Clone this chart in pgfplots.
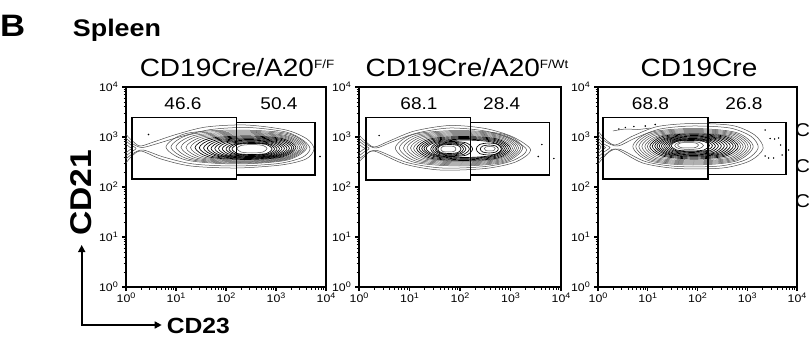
\documentclass[border=0pt]{standalone}
\usepackage{fontspec}
\setmainfont{Liberation Sans}[FakeStretch=1.12]
\usepackage{pgfplots}
\pgfplotsset{compat=1.18}
\usetikzlibrary{arrows.meta}
\newcommand{\tl}[1]{\fontsize{11}{11}\selectfont 10\raisebox{4.2pt}{\fontsize{8}{8}\selectfont #1}}
\pgfplotsset{
  panel/.style={
    scale only axis, height=200pt,
    anchor=south west,
    xmin=0,xmax=4,ymin=0,ymax=4,
    xtick={0,1,2,3,4}, ytick={0,1,2,3,4},
    xticklabels={\tl0,\tl1,\tl2,\tl3,\tl4},
    yticklabels={\tl0,\tl1,\tl2,\tl3,\tl4},
    minor xtick={0.301,0.477,0.602,0.699,0.778,0.845,0.903,0.954,1.301,1.477,1.602,1.699,1.778,1.845,1.903,1.954,2.301,2.477,2.602,2.699,2.778,2.845,2.903,2.954,3.301,3.477,3.602,3.699,3.778,3.845,3.903,3.954},
    minor ytick={0.301,0.477,0.602,0.699,0.778,0.845,0.903,0.954,1.301,1.477,1.602,1.699,1.778,1.845,1.903,1.954,2.301,2.477,2.602,2.699,2.778,2.845,2.903,2.954,3.301,3.477,3.602,3.699,3.778,3.845,3.903,3.954},
    xtick pos=left, ytick pos=left,
    tick align=outside,
    major tick length=4pt, minor tick length=2.5pt,
    axis line style={line width=1.5pt},
    every major tick/.append style={line width=1.2pt, black},
    every minor tick/.append style={line width=0.8pt, black},
    xticklabel style={inner sep=2pt},
    yticklabel style={inner sep=2pt, xshift=-2pt},
  },
  ring/.style={black!70, line width=0.5pt, smooth cycle, no markers},
  iring/.style={black, line width=0.65pt, smooth cycle, no markers},
  open/.style={black!70, line width=0.5pt, smooth, no markers},
  gate/.style={black, line width=1.6pt, sharp plot, line cap=rect, line join=miter, no markers},
  dots/.style={only marks, mark=*, mark size=0.5pt, black},
}
\begin{document}
\begin{tikzpicture}[x=1pt,y=1pt]
\useasboundingbox (0,0) rectangle (811,338);

% ---------------- Panel 1 ----------------
\begin{axis}[panel, at={(126pt,51pt)}, width=200pt]
\addplot[open] coordinates {(0.00,3.05) (0.12,2.93) (0.28,2.82) (0.55,2.90) (1.00,3.05) (1.60,3.20) (2.40,3.24) (3.20,3.14) (3.62,2.96) (3.76,2.76) (3.60,2.56) (3.10,2.44) (2.20,2.38) (1.30,2.42) (0.70,2.56) (0.30,2.72) (0.12,2.62) (0.00,2.48)};
\addplot[open] coordinates {(0.00,2.98) (0.14,2.86) (0.32,2.79) (0.60,2.86) (1.10,3.01) (1.70,3.15) (2.45,3.19) (3.20,3.10) (3.55,2.93) (3.68,2.76) (3.52,2.59) (3.05,2.47) (2.20,2.42) (1.35,2.46) (0.75,2.60) (0.34,2.74) (0.14,2.67) (0.00,2.56)};
\addplot[open] coordinates {(0.00,2.92) (0.10,2.84) (0.20,2.77) (0.10,2.70) (0.00,2.62)};
\addplot[open] coordinates {(0.00,2.86) (0.07,2.80) (0.12,2.77) (0.07,2.74) (0.00,2.68)};
\addplot[ring] coordinates {(3.62,2.80) (3.23,3.07) (2.21,3.14) (1.20,3.07) (0.80,2.80) (1.20,2.54) (2.21,2.46) (3.23,2.54)};
\addplot[ring] coordinates {(3.585,2.80) (3.21,3.05) (2.245,3.12) (1.28,3.05) (0.90,2.80) (1.28,2.55) (2.245,2.475) (3.21,2.55)};
\addplot[ring] coordinates {(3.55,2.80) (3.19,3.03) (2.28,3.10) (1.36,3.03) (1.00,2.80) (1.36,2.56) (2.28,2.49) (3.19,2.56)};
\addplot[ring] coordinates {(3.515,2.795) (3.175,3.015) (2.31,3.08) (1.44,3.015) (1.10,2.795) (1.44,2.57) (2.31,2.505) (3.175,2.57)};
\addplot[ring] coordinates {(3.48,2.79) (3.16,3.00) (2.34,3.06) (1.52,3.00) (1.20,2.79) (1.52,2.58) (2.34,2.52) (3.16,2.58)};
\addplot[ring] coordinates {(3.44,2.79) (3.14,2.985) (2.365,3.04) (1.59,2.985) (1.29,2.79) (1.59,2.59) (2.365,2.535) (3.14,2.59)};
\addplot[iring] coordinates {(3.40,2.79) (3.12,2.97) (2.39,3.02) (1.66,2.97) (1.38,2.79) (1.66,2.60) (2.39,2.55) (3.12,2.60)};
\addplot[iring] coordinates {(3.36,2.785) (3.095,2.955) (2.415,3.00) (1.73,2.955) (1.465,2.785) (1.73,2.61) (2.415,2.56) (3.095,2.61)};
\addplot[iring] coordinates {(3.32,2.78) (3.07,2.94) (2.44,2.98) (1.80,2.94) (1.55,2.78) (1.80,2.62) (2.44,2.57) (3.07,2.62)};
\addplot[iring] coordinates {(3.27,2.775) (3.04,2.925) (2.45,2.965) (1.855,2.925) (1.625,2.775) (1.855,2.625) (2.45,2.58) (3.04,2.625)};
\addplot[iring] coordinates {(3.22,2.77) (3.01,2.91) (2.46,2.95) (1.91,2.91) (1.70,2.77) (1.91,2.63) (2.46,2.59) (3.01,2.63)};
\addplot[iring] coordinates {(3.17,2.77) (2.975,2.90) (2.475,2.935) (1.97,2.90) (1.775,2.77) (1.97,2.635) (2.475,2.60) (2.975,2.635)};
\addplot[iring] coordinates {(3.12,2.77) (2.94,2.89) (2.49,2.92) (2.03,2.89) (1.85,2.77) (2.03,2.64) (2.49,2.61) (2.94,2.64)};
\addplot[iring] coordinates {(3.07,2.765) (2.91,2.875) (2.50,2.905) (2.085,2.875) (1.925,2.765) (2.085,2.65) (2.50,2.62) (2.91,2.65)};
\addplot[iring] coordinates {(3.02,2.76) (2.88,2.86) (2.51,2.89) (2.14,2.86) (2.00,2.76) (2.14,2.66) (2.51,2.63) (2.88,2.66)};
\addplot[iring] coordinates {(2.97,2.76) (2.845,2.855) (2.515,2.88) (2.185,2.855) (2.06,2.76) (2.185,2.665) (2.515,2.64) (2.845,2.665)};
\addplot[iring] coordinates {(2.92,2.76) (2.81,2.85) (2.52,2.87) (2.23,2.85) (2.12,2.76) (2.23,2.67) (2.52,2.65) (2.81,2.67)};
\addplot[ring] coordinates {(2.82,2.77) (2.74,2.83) (2.52,2.85) (2.30,2.83) (2.22,2.77) (2.30,2.70) (2.52,2.68) (2.74,2.70)};
\addplot[dots] coordinates {(3.88,2.61) (0.45,3.05)};
\addplot[gate] coordinates {(0.114,2.16) (2.206,2.16) (2.206,3.394) (0.114,3.394) (0.114,2.16)};
\addplot[gate] coordinates {(2.206,2.24) (3.78,2.24) (3.78,3.294) (2.206,3.294) (2.206,2.24)};
\end{axis}

% ---------------- Panel 2 ----------------
\begin{axis}[panel, at={(359pt,51pt)}, width=202pt]
\addplot[open] coordinates {(0.00,3.04) (0.12,2.92) (0.30,2.80) (0.60,2.92) (1.10,3.12) (1.80,3.23) (2.50,3.17) (3.05,3.00) (3.40,2.74) (3.10,2.50) (2.50,2.37) (1.60,2.34) (0.90,2.46) (0.30,2.72) (0.12,2.62) (0.00,2.50)};
\addplot[open] coordinates {(0.00,2.98) (0.14,2.86) (0.34,2.78) (0.65,2.90) (1.15,3.08) (1.80,3.18) (2.50,3.12) (3.00,2.97) (3.32,2.74) (3.05,2.53) (2.50,2.41) (1.65,2.38) (0.95,2.49) (0.36,2.73) (0.14,2.66) (0.00,2.56)};
\addplot[open] coordinates {(0.00,2.92) (0.10,2.84) (0.20,2.77) (0.10,2.70) (0.00,2.62)};
\addplot[open] coordinates {(0.00,2.86) (0.07,2.80) (0.12,2.77) (0.07,2.74) (0.00,2.68)};
\addplot[ring] coordinates {(3.24,2.78) (2.89,3.05) (1.98,3.13) (1.07,3.05) (0.72,2.78) (1.07,2.50) (1.98,2.42) (2.89,2.50)};
\addplot[ring] coordinates {(3.20,2.78) (2.865,3.035) (2.00,3.11) (1.135,3.035) (0.80,2.78) (1.135,2.515) (2.00,2.44) (2.865,2.515)};
\addplot[ring] coordinates {(3.16,2.78) (2.84,3.02) (2.02,3.09) (1.20,3.02) (0.88,2.78) (1.20,2.53) (2.02,2.46) (2.84,2.53)};
\addplot[ring] coordinates {(3.12,2.78) (2.815,3.005) (2.035,3.07) (1.255,3.005) (0.95,2.78) (1.255,2.545) (2.035,2.48) (2.815,2.545)};
\addplot[ring] coordinates {(3.08,2.78) (2.79,2.99) (2.05,3.05) (1.31,2.99) (1.02,2.78) (1.31,2.56) (2.05,2.50) (2.79,2.56)};
\addplot[ring] coordinates {(3.04,2.775) (2.765,2.975) (2.06,3.03) (1.355,2.975) (1.08,2.775) (1.355,2.57) (2.06,2.515) (2.765,2.57)};
\addplot[iring] coordinates {(3.00,2.77) (2.74,2.96) (2.07,3.01) (1.40,2.96) (1.14,2.77) (1.40,2.58) (2.07,2.53) (2.74,2.58)};
\addplot[iring] coordinates {(2.96,2.77) (2.715,2.945) (2.075,2.99) (1.44,2.945) (1.19,2.77) (1.44,2.595) (2.075,2.545) (2.715,2.595)};
\addplot[iring] coordinates {(2.92,2.77) (2.69,2.93) (2.08,2.97) (1.48,2.93) (1.24,2.77) (1.48,2.61) (2.08,2.56) (2.69,2.61)};
\addplot[iring] coordinates {(2.88,2.77) (2.66,2.915) (2.085,2.955) (1.51,2.915) (1.285,2.77) (1.51,2.62) (2.085,2.575) (2.66,2.62)};
\addplot[iring] coordinates {(2.84,2.77) (2.63,2.90) (2.09,2.94) (1.54,2.90) (1.33,2.77) (1.54,2.63) (2.09,2.59) (2.63,2.63)};
\addplot[iring] coordinates {(2.25,2.76) (2.13,2.88) (1.84,2.91) (1.54,2.88) (1.42,2.76) (1.54,2.64) (1.84,2.61) (2.13,2.64)};
\addplot[iring] coordinates {(2.185,2.76) (2.08,2.865) (1.825,2.895) (1.565,2.865) (1.46,2.76) (1.565,2.655) (1.825,2.625) (2.08,2.655)};
\addplot[iring] coordinates {(2.12,2.76) (2.03,2.85) (1.81,2.88) (1.59,2.85) (1.50,2.76) (1.59,2.67) (1.81,2.64) (2.03,2.67)};
\addplot[iring] coordinates {(2.07,2.76) (1.995,2.84) (1.80,2.865) (1.605,2.84) (1.53,2.76) (1.605,2.68) (1.80,2.655) (1.995,2.68)};
\addplot[iring] coordinates {(2.02,2.76) (1.96,2.83) (1.79,2.85) (1.62,2.83) (1.56,2.76) (1.62,2.69) (1.79,2.67) (1.96,2.69)};
\addplot[ring] coordinates {(1.92,2.76) (1.88,2.81) (1.77,2.82) (1.66,2.81) (1.62,2.76) (1.66,2.71) (1.77,2.70) (1.88,2.71)};
\addplot[iring] coordinates {(2.82,2.76) (2.75,2.85) (2.57,2.88) (2.39,2.85) (2.32,2.76) (2.39,2.67) (2.57,2.64) (2.75,2.67)};
\addplot[iring] coordinates {(2.76,2.76) (2.71,2.82) (2.58,2.84) (2.45,2.82) (2.40,2.76) (2.45,2.70) (2.58,2.68) (2.71,2.70)};
\addplot[ring] coordinates {(2.70,2.77) (2.67,2.80) (2.59,2.81) (2.51,2.80) (2.48,2.77) (2.51,2.73) (2.59,2.72) (2.67,2.73)};
\addplot[dots] coordinates {(3.62,2.85) (3.55,2.61) (3.86,2.57) (0.40,3.03)};
\addplot[gate] coordinates {(0.133,2.14) (2.21,2.14) (2.21,3.39) (0.133,3.39) (0.133,2.14)};
\addplot[gate] coordinates {(2.21,2.24) (3.77,2.24) (3.77,3.29) (2.21,3.29) (2.21,2.24)};
\end{axis}

% ---------------- Panel 3 ----------------
\begin{axis}[panel, at={(598pt,51pt)}, width=199pt]
\addplot[open] coordinates {(0.00,3.12) (0.14,2.96) (0.35,2.84) (0.70,3.02) (1.20,3.21) (1.90,3.27) (2.70,3.23) (3.15,3.04) (3.32,2.77) (3.05,2.52) (2.50,2.38) (1.60,2.37) (0.90,2.48) (0.35,2.76) (0.14,2.62) (0.00,2.46)};
\addplot[open] coordinates {(0.00,3.05) (0.16,2.90) (0.40,2.82) (0.75,2.98) (1.25,3.16) (1.90,3.22) (2.65,3.18) (3.08,3.01) (3.22,2.78) (2.98,2.55) (2.45,2.42) (1.60,2.41) (0.95,2.51) (0.42,2.76) (0.16,2.66) (0.00,2.53)};
\addplot[open] coordinates {(0.00,2.98) (0.12,2.86) (0.24,2.79) (0.12,2.70) (0.00,2.60)};
\addplot[open] coordinates {(0.00,2.92) (0.09,2.83) (0.15,2.79) (0.09,2.74) (0.00,2.67)};
\addplot[open] coordinates {(0.00,2.86) (0.06,2.80) (0.00,2.72)};
\addplot[open] coordinates {(0.30,3.12) (0.55,3.16) (0.80,3.15) (1.05,3.18)};
\addplot[ring] coordinates {(3.12,2.81) (2.78,3.09) (1.91,3.17) (1.04,3.09) (0.70,2.81) (1.04,2.52) (1.91,2.44) (2.78,2.52)};
\addplot[ring] coordinates {(3.07,2.81) (2.745,3.075) (1.915,3.15) (1.085,3.075) (0.76,2.81) (1.085,2.535) (1.915,2.46) (2.745,2.535)};
\addplot[ring] coordinates {(3.02,2.81) (2.71,3.06) (1.92,3.13) (1.13,3.06) (0.82,2.81) (1.13,2.55) (1.92,2.48) (2.71,2.55)};
\addplot[ring] coordinates {(2.97,2.81) (2.675,3.045) (1.925,3.11) (1.175,3.045) (0.88,2.81) (1.175,2.565) (1.925,2.50) (2.675,2.565)};
\addplot[ring] coordinates {(2.92,2.81) (2.64,3.03) (1.93,3.09) (1.22,3.03) (0.94,2.81) (1.22,2.58) (1.93,2.52) (2.64,2.58)};
\addplot[ring] coordinates {(2.87,2.81) (2.605,3.02) (1.93,3.075) (1.255,3.02) (0.99,2.81) (1.255,2.60) (1.93,2.54) (2.605,2.60)};
\addplot[iring] coordinates {(2.82,2.81) (2.57,3.01) (1.93,3.06) (1.29,3.01) (1.04,2.81) (1.29,2.62) (1.93,2.56) (2.57,2.62)};
\addplot[iring] coordinates {(2.77,2.815) (2.535,2.995) (1.93,3.045) (1.325,2.995) (1.09,2.815) (1.325,2.635) (1.93,2.58) (2.535,2.635)};
\addplot[iring] coordinates {(2.72,2.82) (2.50,2.98) (1.93,3.03) (1.36,2.98) (1.14,2.82) (1.36,2.65) (1.93,2.60) (2.50,2.65)};
\addplot[iring] coordinates {(2.66,2.82) (2.455,2.97) (1.925,3.015) (1.39,2.97) (1.185,2.82) (1.39,2.66) (1.925,2.615) (2.455,2.66)};
\addplot[iring] coordinates {(2.60,2.82) (2.41,2.96) (1.92,3.00) (1.42,2.96) (1.23,2.82) (1.42,2.67) (1.92,2.63) (2.41,2.67)};
\addplot[iring] coordinates {(2.54,2.82) (2.365,2.95) (1.91,2.985) (1.45,2.95) (1.275,2.82) (1.45,2.68) (1.91,2.645) (2.365,2.68)};
\addplot[iring] coordinates {(2.48,2.82) (2.32,2.94) (1.90,2.97) (1.48,2.94) (1.32,2.82) (1.48,2.69) (1.90,2.66) (2.32,2.69)};
\addplot[iring] coordinates {(2.42,2.82) (2.275,2.93) (1.89,2.96) (1.505,2.93) (1.36,2.82) (1.505,2.705) (1.89,2.675) (2.275,2.705)};
\addplot[iring] coordinates {(2.36,2.82) (2.23,2.92) (1.88,2.95) (1.53,2.92) (1.40,2.82) (1.53,2.72) (1.88,2.69) (2.23,2.72)};
\addplot[iring] coordinates {(2.30,2.825) (2.18,2.915) (1.87,2.94) (1.555,2.915) (1.435,2.825) (1.555,2.73) (1.87,2.705) (2.18,2.73)};
\addplot[iring] coordinates {(2.24,2.83) (2.13,2.91) (1.86,2.93) (1.58,2.91) (1.47,2.83) (1.58,2.74) (1.86,2.72) (2.13,2.74)};
\addplot[ring] coordinates {(2.12,2.83) (2.04,2.89) (1.83,2.91) (1.62,2.89) (1.54,2.83) (1.62,2.77) (1.83,2.75) (2.04,2.77)};
\addplot[ring] coordinates {(2.02,2.84) (1.96,2.88) (1.81,2.89) (1.66,2.88) (1.60,2.84) (1.66,2.79) (1.81,2.78) (1.96,2.79)};
\addplot[dots] coordinates {(3.36,3.14) (3.46,2.97) (3.55,2.96) (3.63,2.98) (3.67,2.84) (3.83,2.74) (3.70,2.64) (3.43,2.58) (3.36,2.62) (3.53,2.58) (0.42,3.16) (0.55,3.19) (0.72,3.21) (0.95,3.22) (1.15,3.25)};
\addplot[gate] coordinates {(0.10,2.16) (2.205,2.16) (2.205,3.39) (0.10,3.39) (0.10,2.16)};
\addplot[gate] coordinates {(2.205,2.25) (3.78,2.25) (3.78,3.29) (2.205,3.29) (2.205,2.25)};
\end{axis}

% ---------------- Texts ----------------
\node[anchor=base west, inner sep=0, font=\bfseries\fontsize{31}{31}\selectfont] at (0,301.3) {B};
\node[anchor=base west, inner sep=0, font=\bfseries\fontsize{24}{24}\selectfont] at (72.7,301.3) {Spleen};
\node[anchor=base, inner sep=0, font=\fontsize{25}{25}\selectfont] at (237,261) {CD19Cre/A20\raisebox{8.5pt}{\fontsize{12}{12}\selectfont F/F}};
\node[anchor=base, inner sep=0, font=\fontsize{25}{25}\selectfont] at (467,261) {CD19Cre/A20\raisebox{8.5pt}{\fontsize{12}{12}\selectfont F/Wt}};
\node[anchor=base, inner sep=0, font=\fontsize{25}{25}\selectfont] at (699,261) {CD19Cre};
\foreach \x/\t in {183/46.6, 279/50.4, 419/68.1, 501.7/28.4, 650.5/68.8, 744/26.8}
  \node[anchor=base, inner sep=0, font=\fontsize{17}{17}\selectfont] at (\x,228) {\t};
\foreach \y in {201.3,166,131}
  \node[anchor=base west, inner sep=0, font=\fontsize{18.5}{18.5}\selectfont] at (795,\y) {C};
\node[rotate=90, inner sep=0, font=\bfseries\fontsize{30}{30}\selectfont] at (81,145) {CD21};
\node[anchor=west, inner sep=0, font=\bfseries\fontsize{22}{22}\selectfont] at (166.7,12.3) {CD23};
\draw[line width=1.6pt, {Triangle[length=7pt,width=7pt]}-{Triangle[length=7pt,width=7pt]}] (81.7,93) -- (81.7,13) -- (161.7,13);
\end{tikzpicture}
\end{document}
